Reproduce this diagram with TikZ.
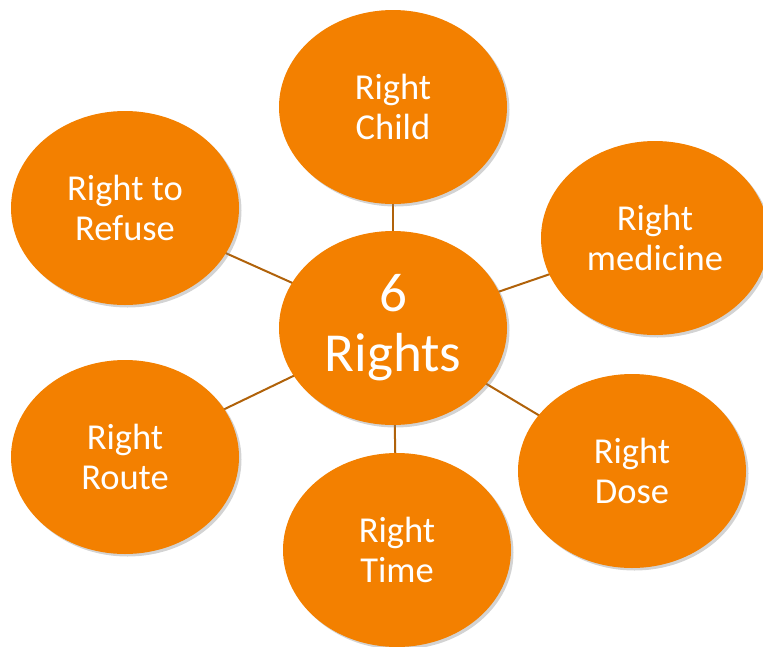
\documentclass[tikz,border=0pt]{standalone}
\usepackage{fontspec}
\setmainfont{Carlito}
\usepackage{tikz}
\usetikzlibrary{shapes.geometric, shadows, backgrounds}
\definecolor{rightorange}{RGB}{243,128,0}
\definecolor{spoke}{RGB}{176,98,10}

\begin{document}
\begin{tikzpicture}[x=1pt, y=-1pt,
        bubble/.style={ellipse, fill=rightorange, minimum width=228pt, minimum height=194pt, inner sep=0pt,
            text=white, align=center, font=\fontsize{36.5}{40}\selectfont,
            drop shadow={opacity=0.35, shadow xshift=2.5pt, shadow yshift=-2.5pt}},
        link/.style={spoke, line width=2pt}]
        \useasboundingbox (0,0) rectangle (763,646);

        \node[bubble, font=\fontsize{55}{60}\selectfont] (rights) at (393,328) {6\\Rights};
        \node[bubble] (child) at (393,107) {Right\\Child};
        \node[bubble] (medicine) at (655,238) {Right\\medicine};
        \node[bubble] (dose) at (632,471) {Right\\Dose};
        \node[bubble] (time) at (397,550) {Right\\Time};
        \node[bubble] (route) at (125,457) {Right\\Route};
        \node[bubble] (refuse) at (125,208) {Right to\\Refuse};

        \begin{scope}[on background layer]
        \foreach \n in {child, medicine, dose, time, route, refuse}
            \draw[link] (rights.center) -- (\n.center);
        \end{scope}
    \end{tikzpicture}
\end{document}
